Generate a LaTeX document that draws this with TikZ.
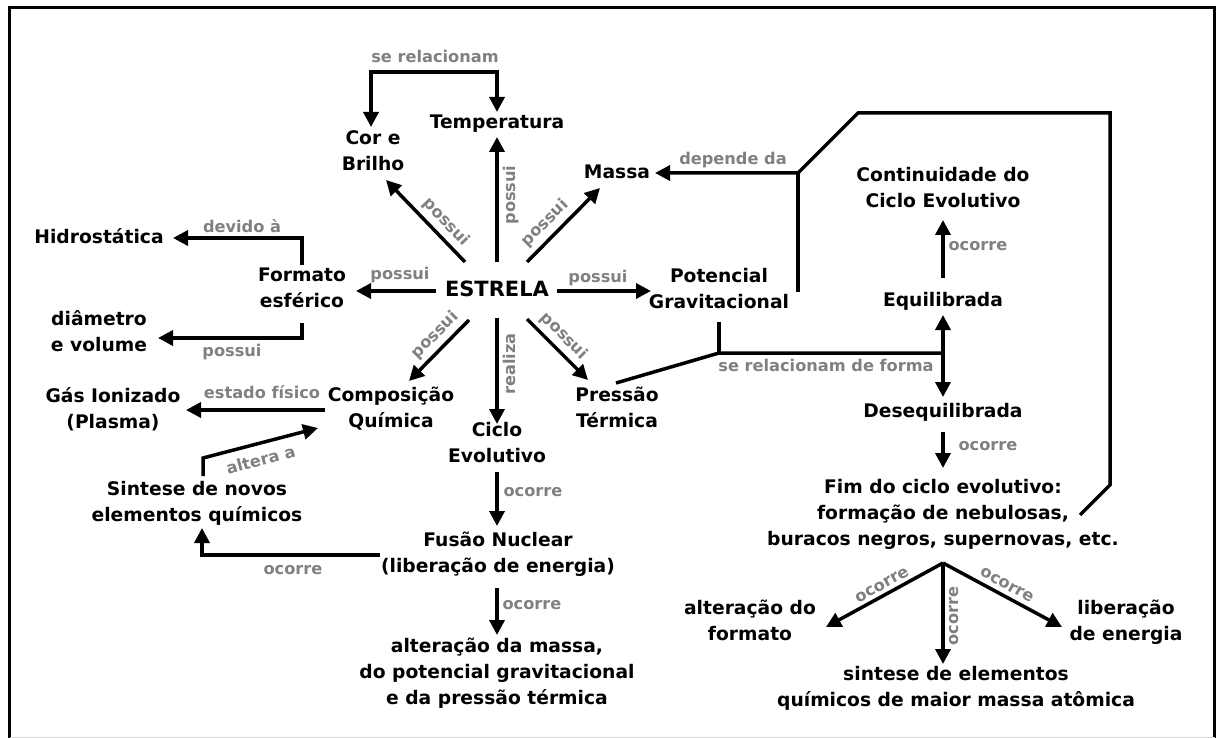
\documentclass[tikz,border=0pt]{standalone}
\usepackage{fontspec}
\setmainfont{DejaVu Sans}
\usetikzlibrary{arrows.meta,calc}
\definecolor{labgray}{RGB}{128,128,128}
\newcommand\mstrut{\rule[-7.8pt]{0pt}{26pt}}
\begin{document}
\begin{tikzpicture}[x=1pt,y=-1pt,
  concept/.style={inner sep=0pt, align=center, font=\fontsize{18.7}{26}\selectfont\bfseries,
    execute at begin node=\mstrut, execute at end node=\mstrut},
  lab/.style={inner sep=0pt, text=labgray, font=\fontsize{16.2}{18}\selectfont\bfseries,
    text height=12pt, text depth=3pt},
  link/.style={line width=3.5pt, line join=miter},
  arr/.style={link, -{Triangle[length=15pt,width=15pt]}},
  dbl/.style={link, {Triangle[length=15pt,width=15pt]}-{Triangle[length=15pt,width=15pt]}},
  frame/.style={line width=3.5pt}
]
\useasboundingbox (0,0) rectangle (1216,738);
% frame
\draw[frame] (9.5,738) -- (9.5,7.5) -- (1214.5,7.5) -- (1214.5,738);
\draw[gray!30, line width=1pt] (9.5,737) -- (1214.5,737);

% concepts
\node[concept, font=\fontsize{21}{26}\selectfont\bfseries] (estrela) at (497,291) {ESTRELA};
\node[concept] (temp) at (497,123) {Temperatura};
\node[concept] (cor) at (373,154) {Cor e\\Brilho};
\node[concept] (massa) at (617,173) {Massa};
\node[concept] (formato) at (302,292) {Formato\\esférico};
\node[concept] (potencial) at (719,292) {Potencial\\Gravitacional};
\node[concept] (comp) at (391,411) {Composição\\Química};
\node[concept] (ciclo) at (497,446) {Ciclo\\Evolutivo};
\node[concept] (pressao) at (617,411) {Pressão\\Térmica};
\node[concept] (hidro) at (99,238) {Hidrostática};
\node[concept] (diam) at (99,335) {diâmetro\\e volume};
\node[concept] (gas) at (113,412) {Gás Ionizado\\(Plasma)};
\node[concept] (sintese) at (197,505) {Sintese de novos\\elementos químicos};
\node[concept] (fusao) at (498,556) {Fusão Nuclear\\(liberação de energia)};
\node[concept] (altmassa) at (497,675) {alteração da massa,\\do potencial gravitacional\\e da pressão térmica};
\node[concept] (cont) at (943,191) {Continuidade do\\Ciclo Evolutivo};
\node[concept] (equi) at (943,301) {Equilibrada};
\node[concept] (deseq) at (943,412) {Desequilibrada};
\node[concept] (fim) at (943,516) {Fim do ciclo evolutivo:\\formação de nebulosas,\\buracos negros, supernovas, etc.};
\node[concept] (altform) at (750,624) {alteração do\\formato};
\node[concept] (libener) at (1126,624) {liberação\\de energia};
\node[concept] (sintese2) at (956,690) {sintese de elementos\\químicos de maior massa atômica};

% junction coordinates
\coordinate (jM) at (798,173);
\coordinate (c1) at (1110,485);
\coordinate (c2) at (1110,113);
\coordinate (c3) at (858,113);
\coordinate (jP) at (719,353);
\coordinate (jE) at (943,353);
\coordinate (jF) at (943,563);

% arrows from ESTRELA
\draw[arr] ($(estrela)+(0,-29)$) -- ($(temp)+(0,14)$);
\draw[arr] ($(estrela)+(-32,-29)$) -- ($(cor)+(13,26)$);
\draw[arr] ($(estrela)+(30,-29)$) -- ($(massa)+(-17,15)$);
\draw[arr] ($(estrela)+(-61,0)$) -- ($(formato)+(54,-1)$);
\draw[arr] ($(estrela)+(60,0)$) -- ($(potencial)+(-68,-1)$);
\draw[arr] ($(estrela)+(-28,29)$) -- ($(comp)+(18,-30)$);
\draw[arr] ($(estrela)+(0,27)$) -- ($(ciclo)+(0,-22)$);
\draw[arr] ($(estrela)+(30,28)$) -- ($(pressao)+(-29,-31)$);

% se relacionam (cor <-> temperatura)
\draw[dbl] ($(cor)+(-2,-27)$) |- ($(temp)+(0,-51)$) -- ($(temp)+(0,-11)$);

% formato branches
\draw[arr] ($(formato)+(0,-27)$) |- ($(hidro)+(74,0)$);
\draw[arr] ($(formato)+(0,31)$) |- ($(diam)+(59,3)$);

% composicao -> gas
\draw[arr] ($(comp)+(-66,-1)$) -- ($(gas)+(73,-2)$);

% sintese -> composicao
\draw[arr] ($(sintese)+(6,-29)$) -- ++(0,-18) -- ($(comp)+(-73,17)$);

% fusao -> sintese
\draw[arr] ($(fusao)+(-118,-1)$) -| ($(sintese)+(5,23)$);

% ciclo -> fusao -> altmassa
\draw[arr] ($(ciclo)+(0,26)$) -- ($(fusao)+(-1,-30)$);
\draw[arr] ($(fusao)+(-1,32)$) -- ($(altmassa)+(0,-40)$);

% potencial / fim -> massa
\draw[arr] ($(fim)+(137,-1)$) -- (c1) -- (c2) -- (c3) -- (jM) -- ($(massa)+(38,0)$);
\draw[link] ($(potencial)+(79,0)$) -- (jM);

% se relacionam de forma
\draw[link] ($(potencial)+(0,30)$) -- (jP);
\draw[link] ($(pressao)+(-1,-28)$) -- (jP) -- (jE);
\draw[arr] (jE) -- ($(equi)+(0,14)$);
\draw[arr] (jE) -- ($(deseq)+(0,-15)$);

% equilibrada -> continuidade
\draw[arr] ($(equi)+(0,-23)$) -- ($(cont)+(0,29)$);
% desequilibrada -> fim
\draw[arr] ($(deseq)+(0,20)$) -- ($(fim)+(0,-48)$);

% fim -> three
\draw[link] ($(fim)+(0,47)$) -- (jF);
\draw[arr] (jF) -- ($(altform)+(76,3)$);
\draw[arr] (jF) -- ($(sintese2)+(-13,-26)$);
\draw[arr] (jF) -- ($(libener)+(-64,3)$);

% labels
\node[lab] (l1) at (435,58) {se relacionam};
\node[lab] (l2) at (733,160) {depende da};
\node[lab] (l3) at (242,228) {devido à};
\node[lab] (l4) at (400,275) {possui};
\node[lab] (l5) at (598,278) {possui};
\node[lab] (l6) at (232,352) {possui};
\node[lab] (l7) at (262,394) {estado físico};
\node[lab, rotate=15] (l8) at (261,461) {altera a};
\node[lab] (l9) at (293,570) {ocorre};
\node[lab] (l10) at (533,492) {ocorre};
\node[lab] (l11) at (532,605) {ocorre};
\node[lab, rotate=90] (l12) at (511,195) {possui};
\node[lab, rotate=90] (l13) at (511,364) {realiza};
\node[lab, rotate=-46] (l14) at (446,222) {possui};
\node[lab, rotate=45] (l15) at (545,223) {possui};
\node[lab, rotate=45] (l16) at (435,335) {possui};
\node[lab, rotate=-45] (l17) at (564,336) {possui};
\node[lab] (l18) at (978,246) {ocorre};
\node[lab] (l19) at (826,367) {se relacionam de forma};
\node[lab] (l20) at (988,446) {ocorre};
\node[lab, rotate=29] (l21) at (882,585) {ocorre};
\node[lab, rotate=90] (l22) at (954,616) {ocorre};
\node[lab, rotate=-29] (l23) at (1007,585) {ocorre};
\end{tikzpicture}
\end{document}
